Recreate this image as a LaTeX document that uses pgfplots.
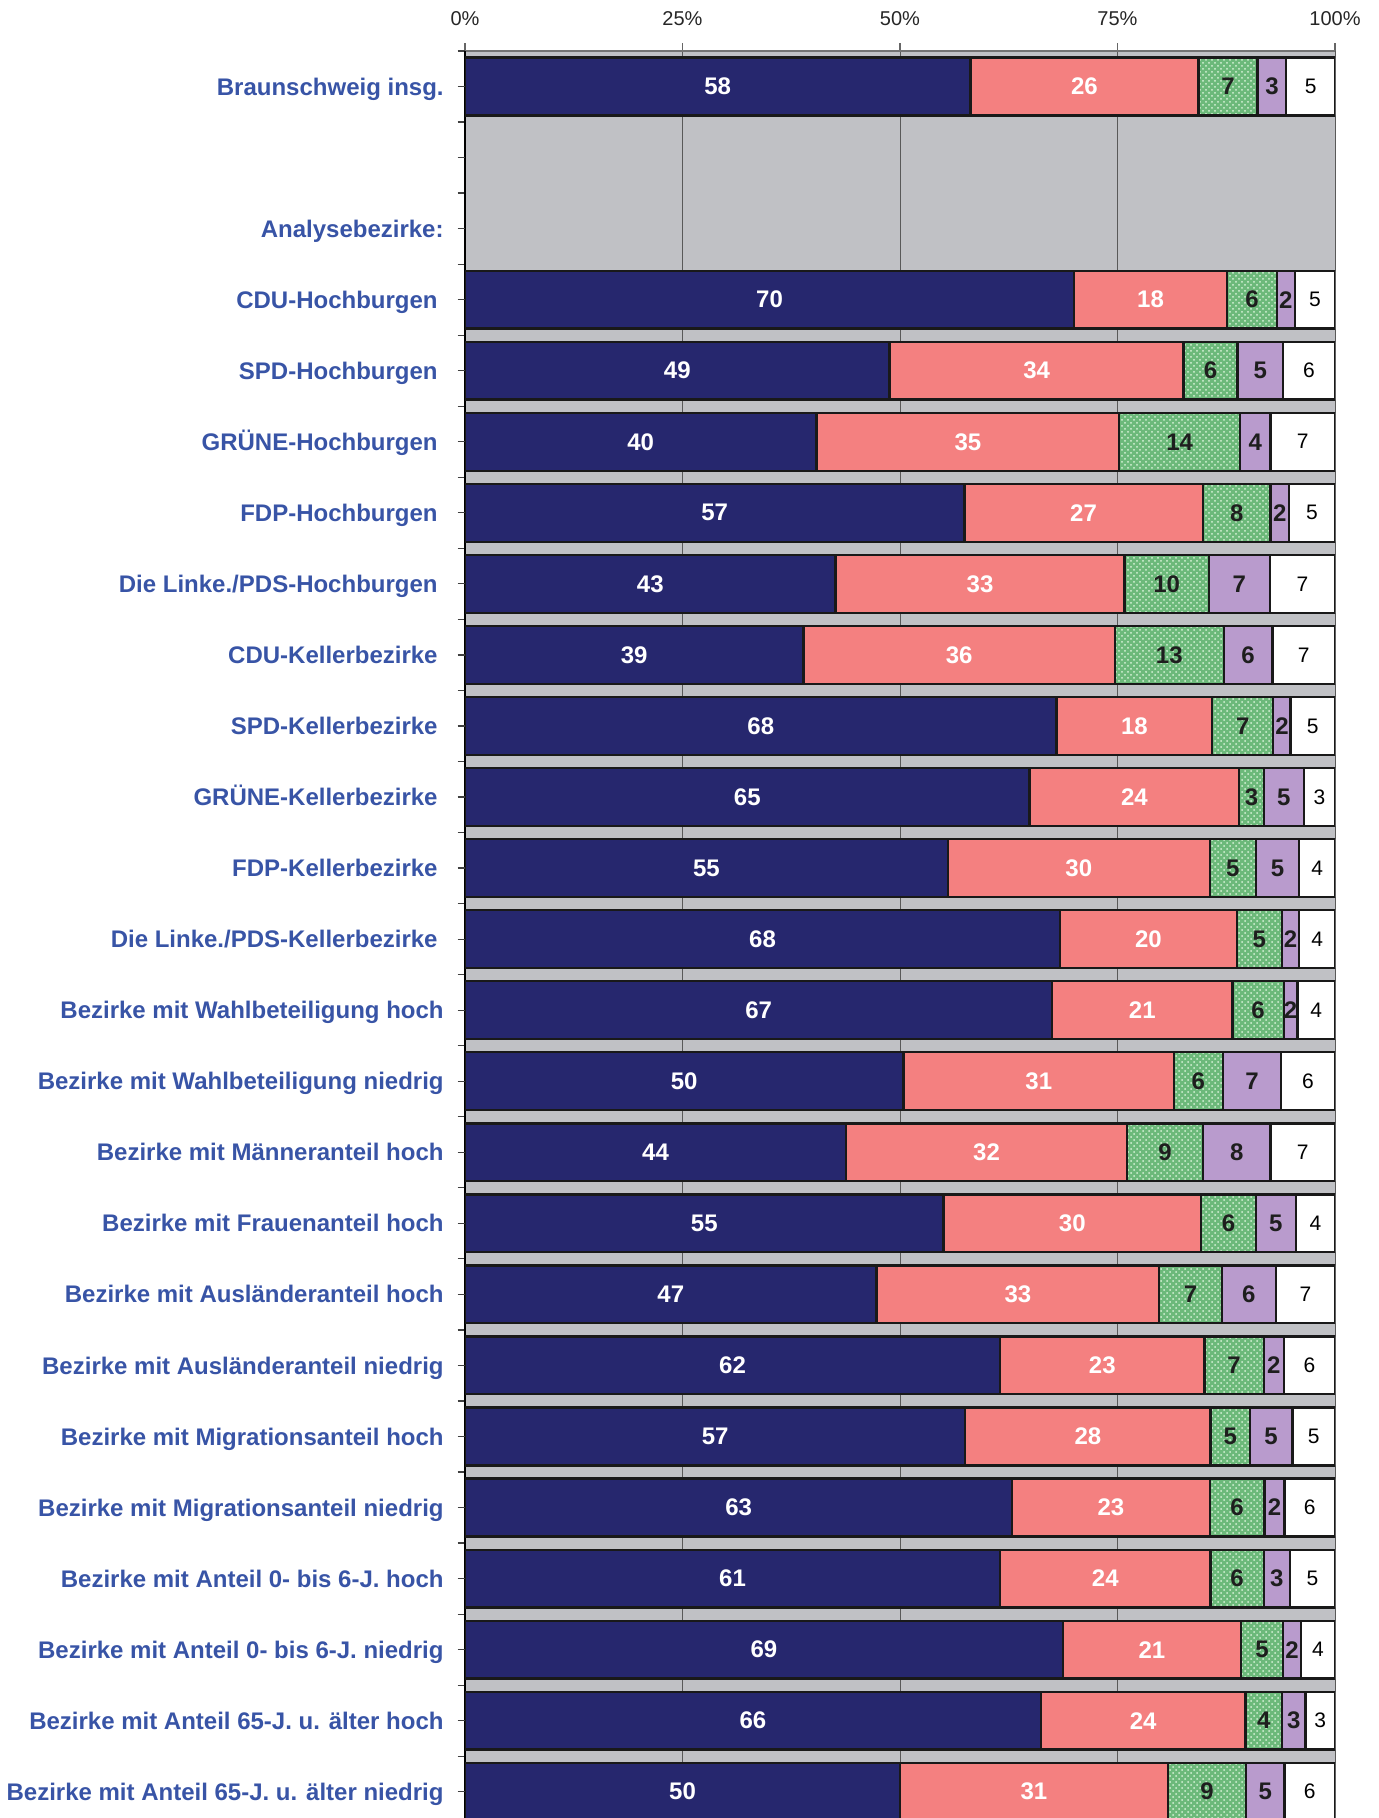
\documentclass[border=0pt]{standalone}
\usepackage{fontspec}
\setmainfont{Liberation Sans}
\usepackage{pgfplots}
\pgfplotsset{compat=1.18}
\usepackage{pgfplotstable}
\usetikzlibrary{patterns}
\definecolor{cnavy}{RGB}{38,39,110}
\definecolor{csalmon}{RGB}{244,128,128}
\definecolor{cgreen}{RGB}{108,185,122}
\definecolor{cgreenlight}{RGB}{215,242,215}
\definecolor{clav}{RGB}{185,155,205}
\definecolor{cbg}{RGB}{192,193,197}
\definecolor{clab}{RGB}{56,84,166}
\definecolor{cdark}{RGB}{30,30,30}
\newcommand\tsp{\kern3pt}

\pgfplotstableread{
y c1 c2 c3 c4 c5 m1 m2 m3 m4 m5 l1 l2 l3 l4 l5
0 58.1 84.3 91.1 94.4 100 29.05 71.2 87.7 92.75 97.2 58 26 7 3 5
3 70.0 87.6 93.3 95.4 100 35.0 78.8 90.45 94.35 97.7 70 18 6 2 5
4 48.8 82.6 88.8 94.0 100 24.4 65.7 85.7 91.4 97.0 49 34 6 5 6
5 40.4 75.2 89.1 92.6 100 20.2 57.8 82.15 90.85 96.3 40 35 14 4 7
6 57.4 84.8 92.6 94.7 100 28.7 71.1 88.7 93.65 97.35 57 27 8 2 5
7 42.6 75.8 85.5 92.5 100 21.3 59.2 80.65 89.0 96.25 43 33 10 7 7
8 38.9 74.7 87.2 92.8 100 19.45 56.8 80.95 90.0 96.4 39 36 13 6 7
9 68.0 85.9 92.9 94.9 100 34.0 76.95 89.4 93.9 97.45 68 18 7 2 5
10 64.9 89.0 91.8 96.4 100 32.45 76.95 90.4 94.1 98.2 65 24 3 5 3
11 55.5 85.6 90.9 95.9 100 27.75 70.55 88.25 93.4 97.95 55 30 5 5 4
12 68.4 88.7 93.9 95.9 100 34.2 78.55 91.3 94.9 97.95 68 20 5 2 4
13 67.5 88.2 94.1 95.7 100 33.75 77.85 91.15 94.9 97.85 67 21 6 2 4
14 50.4 81.5 87.1 93.8 100 25.2 65.95 84.3 90.45 96.9 50 31 6 7 6
15 43.8 76.1 84.8 92.6 100 21.9 59.95 80.45 88.7 96.3 44 32 9 8 7
16 55.0 84.6 90.9 95.5 100 27.5 69.8 87.75 93.2 97.75 55 30 6 5 4
17 47.3 79.8 87.0 93.2 100 23.65 63.55 83.4 90.1 96.6 47 33 7 6 7
18 61.5 85.0 91.8 94.1 100 30.75 73.25 88.4 92.95 97.05 62 23 7 2 6
19 57.5 85.7 90.2 95.1 100 28.75 71.6 87.95 92.65 97.55 57 28 5 5 5
20 62.9 85.6 91.9 94.2 100 31.45 74.25 88.75 93.05 97.1 63 23 6 2 6
21 61.5 85.7 91.8 94.8 100 30.75 73.6 88.75 93.3 97.4 61 24 6 3 5
22 68.7 89.2 94.0 96.1 100 34.35 78.95 91.6 95.05 98.05 69 21 5 2 4
23 66.2 89.7 93.9 96.6 100 33.1 77.95 91.8 95.25 98.3 66 24 4 3 3
24 50.0 80.8 89.8 94.2 100 25.0 65.4 85.3 92.0 97.1 50 31 9 5 6
}\data

\pgfplotsset{
  barsty/.style={xbar, bar width=28.9pt, bar shift=0pt, draw=black!90, line width=1.15pt},
  lblsty/.style={draw=none, mark=none, point meta=explicit symbolic, nodes near coords,
     every node near coord/.append style={anchor=center, inner sep=0pt, #1}},
}

\begin{document}
\begin{tikzpicture}
\begin{axis}[
  at={(232.5pt,0pt)}, anchor=south west,
  scale only axis, width=435pt, height=883.5pt,
  xmin=0, xmax=100, ymin=-0.5, ymax=24.37,
  y dir=reverse, enlargelimits=false,
  axis x line*=top, axis y line*=left,
  x axis line style={-, draw=black!55, line width=0.6pt},
  y axis line style={-, draw=black, line width=0.9pt},
  axis background/.style={fill=cbg},
  xtick={0,25,50,75,100},
  xticklabels={0\%,25\%,50\%,75\%,100\%},
  xmajorgrids,
  major grid style={draw=black!65, line width=0.5pt},
  tick align=outside, major tick length=3.75pt,
  xtick style={draw=black!60, line width=0.6pt},
  ytick={-0.5,0.5,...,23.5},
  yticklabels={},
  ytick style={draw=black!75, line width=0.6pt},
  xticklabel style={font=\fontsize{10}{12}\selectfont, text=black!85, inner sep=0pt, anchor=base, yshift=8.75pt},
  extra y ticks={0,1,...,24},
  extra y tick labels={Braunschweig insg.,{},Analysebezirke:,CDU-Hochburgen\tsp,SPD-Hochburgen\tsp,GRÜNE-Hochburgen\tsp,FDP-Hochburgen\tsp,Die Linke./PDS-Hochburgen\tsp,CDU-Kellerbezirke\tsp,SPD-Kellerbezirke\tsp,GRÜNE-Kellerbezirke\tsp,FDP-Kellerbezirke\tsp,Die Linke./PDS-Kellerbezirke\tsp,Bezirke mit Wahlbeteiligung hoch,Bezirke mit Wahlbeteiligung niedrig,Bezirke mit Männeranteil hoch,Bezirke mit Frauenanteil hoch,Bezirke mit Ausländeranteil hoch,Bezirke mit Ausländeranteil niedrig,Bezirke mit Migrationsanteil hoch,Bezirke mit Migrationsanteil niedrig,Bezirke mit Anteil 0- bis 6-J. hoch,Bezirke mit Anteil 0- bis 6-J. niedrig,Bezirke mit Anteil 65-J. u. älter hoch,Bezirke mit Anteil 65-J. u. älter niedrig},
  extra y tick style={tick style={draw=none}, yticklabel style={font=\fontsize{12}{14}\selectfont\bfseries, text=clab, inner sep=0pt, anchor=base east, xshift=-6.75pt, yshift=-4.3pt}},
]
\addplot[barsty, fill=white] table[x=c5,y=y]{\data};
\addplot[barsty, fill=clav] table[x=c4,y=y]{\data};
\addplot[barsty, preaction={fill=cgreen}, pattern=crosshatch dots, pattern color=cgreenlight] table[x=c3,y=y]{\data};
\addplot[barsty, fill=csalmon] table[x=c2,y=y]{\data};
\addplot[barsty, fill=cnavy] table[x=c1,y=y]{\data};

\addplot[lblsty={text=white, font=\fontsize{12}{14}\selectfont\bfseries}] table[x=m1,y=y,meta=l1]{\data};
\addplot[lblsty={text=white, font=\fontsize{12}{14}\selectfont\bfseries}] table[x=m2,y=y,meta=l2]{\data};
\addplot[lblsty={text=cdark, font=\fontsize{12}{14}\selectfont\bfseries}] table[x=m3,y=y,meta=l3]{\data};
\addplot[lblsty={text=cdark, font=\fontsize{12}{14}\selectfont\bfseries}] table[x=m4,y=y,meta=l4]{\data};
\addplot[lblsty={text=black, font=\fontsize{10.5}{12}\selectfont}] table[x=m5,y=y,meta=l5]{\data};
\end{axis}
\pgfresetboundingbox
\useasboundingbox (0,0) rectangle (689pt,909pt);
\end{tikzpicture}
\end{document}
